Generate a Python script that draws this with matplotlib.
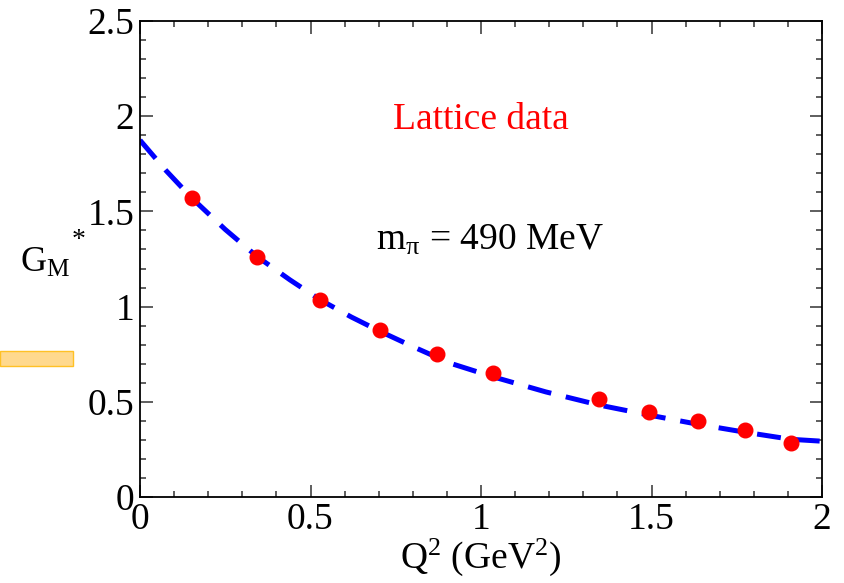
import numpy as np
import matplotlib
matplotlib.use("Agg")
import matplotlib.pyplot as plt
from matplotlib.patches import Rectangle

plt.rcParams['font.family'] = ['Liberation Serif', 'DejaVu Serif']
plt.rcParams['mathtext.fontset'] = 'custom'
plt.rcParams['mathtext.rm'] = 'Liberation Serif'
plt.rcParams['mathtext.it'] = 'Liberation Serif:italic'

# lattice points (Q^2, G_M*)
q2_lat = [0.152, 0.344, 0.529, 0.704, 0.871, 1.036, 1.346, 1.494, 1.636, 1.775, 1.909]
gm_lat = [1.573, 1.261, 1.034, 0.877, 0.751, 0.653, 0.513, 0.444, 0.397, 0.350, 0.285]
gm_err = [0.02, 0.02, 0.02, 0.015, 0.015, 0.015, 0.015, 0.015, 0.015, 0.015, 0.015]

# model curve
q2_fit = [0.0, 0.076, 0.152, 0.25, 0.344, 0.44, 0.529, 0.62, 0.704, 0.80, 0.909, 1.036,
          1.19, 1.346, 1.494, 1.636, 1.775, 1.909, 2.0]
gm_fit = [1.874, 1.715, 1.570, 1.405, 1.262, 1.140, 1.035, 0.945, 0.870, 0.790, 0.703, 0.631,
          0.552, 0.483, 0.430, 0.382, 0.340, 0.303, 0.293]

xticks = [0, 0.5, 1, 1.5, 2]
xticklabels = ['0', '0.5', '1', '1.5', '2']
yticks = [0, 0.5, 1, 1.5, 2, 2.5]
yticklabels = ['0', '0.5', '1', '1.5', '2', '2.5']

fig = plt.figure(figsize=(8.44, 5.83), dpi=100)
ax = fig.add_axes([140 / 844, 86 / 583, 682 / 844, 476 / 583])

line, = ax.plot(q2_fit, gm_fit, color='#0000ff', lw=3.6)
line.set_dashes((4.8, 3.0))
line.set_dash_capstyle('butt')
ax.errorbar(q2_lat, gm_lat, yerr=gm_err, fmt='o', color='#ff0000', ms=10.5,
            elinewidth=1, capsize=0, zorder=3)

ax.set_xlim(0, 2)
ax.set_ylim(0, 2.5)
ax.set_xticks(xticks)
ax.set_xticklabels(xticklabels)
ax.set_xticks(np.arange(0, 2.01, 0.1), minor=True)
ax.set_yticks(yticks)
ax.set_yticklabels(yticklabels)
ax.set_yticks(np.arange(0, 2.51, 0.1), minor=True)
ax.tick_params(which='both', direction='in', top=True, right=True, labelsize=27,
               width=1.1, color='#333333')
ax.tick_params(which='major', length=9, pad=4)
ax.tick_params(which='minor', length=4.5)
for s in ax.spines.values():
    s.set_linewidth(1.3)

ax.text(1.0, 1.98, 'Lattice data', color='#ff0000', fontsize=27, ha='center', va='center')
ax.text(0.692, 1.297, r'm$_{\mathrm{π}}$ = 490 MeV', color='black', fontsize=27,
        ha='left', va='baseline')

ax.set_xlabel(r'Q$^2$ (GeV$^2$)', fontsize=27, labelpad=0)
fig.text(20 / 844, (583 - 272) / 583, r'G$_{\mathrm{M}}$', fontsize=26,
         ha='left', va='baseline')
fig.text(72 / 844, (583 - 247) / 583, '*', fontsize=20, ha='left', va='baseline')

fig.patches.append(Rectangle((0, (583 - 366) / 583), 73 / 844, 15 / 583,
                             transform=fig.transFigure, facecolor='#ffd98e',
                             edgecolor='#ffc125', lw=1))

fig.savefig('out.png', dpi=100)
